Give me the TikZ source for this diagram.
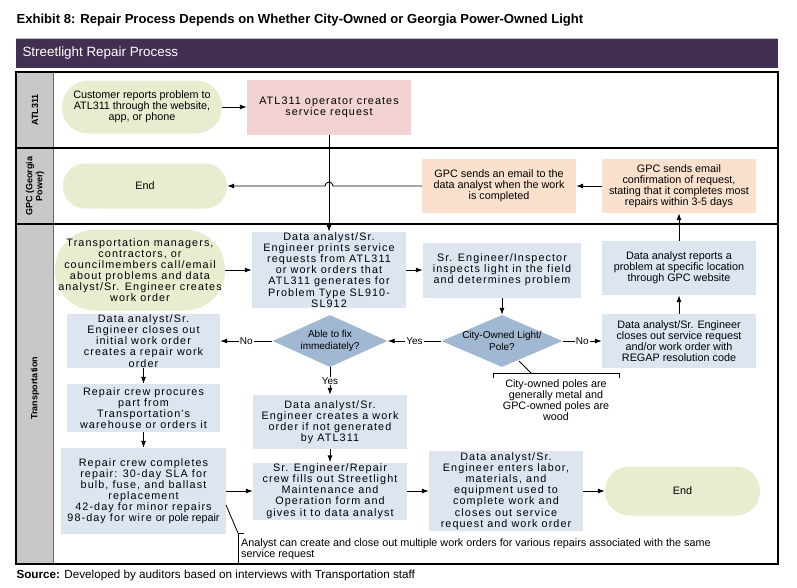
\documentclass[tikz,border=0pt]{standalone}
\usepackage{fontspec}
\setmainfont{Liberation Sans}
\newfontfamily\widefont[LetterSpace=10]{Liberation Sans}
\usetikzlibrary{arrows.meta,shapes.geometric}
\definecolor{hdrpurple}{RGB}{66,48,82}
\definecolor{startgreen}{RGB}{231,238,208}
\definecolor{atlpink}{RGB}{242,210,210}
\definecolor{gpcpeach}{RGB}{250,225,205}
\definecolor{taskblue}{RGB}{220,229,240}
\definecolor{askblue}{RGB}{161,184,210}
\definecolor{lanegrey}{RGB}{200,200,200}
\begin{document}
\begin{tikzpicture}[x=1pt,y=-1pt,
    font=\fontsize{10.8}{11.1}\selectfont,
    task/.style={fill=taskblue, align=center, inner sep=0pt, minimum width=154pt, minimum height=54pt},
    wide/.style={font=\widefont\fontsize{10.8}{11.1}\selectfont},
    terminal/.style={fill=startgreen, align=center, inner sep=0pt, rounded corners=22pt},
    decision/.style={diamond, fill=askblue, inner sep=0pt},
    lbl/.style={fill=white, inner sep=1pt, font=\fontsize{10}{11}\selectfont},
    arr/.style={-{Latex[length=7pt,width=5pt]}, line width=0.9pt},
    lanename/.style={rotate=90, align=center, font=\bfseries\fontsize{9}{10}\selectfont}]
  \useasboundingbox (0,0) rectangle (797,587);

  \node[anchor=west, font=\bfseries\fontsize{13.1}{15}\selectfont] (title) at (13,20)
    {Exhibit 8: Repair Process Depends on Whether City-Owned or Georgia Power-Owned Light};
  \fill[hdrpurple] (16,38) rectangle (778,68);
  \draw[black!25, line width=1.5pt] (16,38.5) -- (778,38.5);
  \node[anchor=west, text=white, font=\fontsize{13.4}{15}\selectfont] (hdr) at (19,53) {Streetlight Repair Process};

  \fill[lanegrey] (16,72) rectangle (53,564);
  \draw[black!60, line width=1pt] (53,72) -- (53,564);
  \foreach \y in {148,224}{
    \draw[line width=1.2pt] (16,\y) -- (778,\y);
  }
  \draw[line width=1.3pt] (16,72) rectangle (778,564);
  \node[lanename] (lnatl) at (35,110) {ATL311};
  \node[lanename] (lngpc) at (35,186) {GPC (Georgia\\Power)};
  \node[lanename] (lntr) at (35,388) {Transportation};

  \node[terminal, rounded corners=26pt, minimum width=160pt, minimum height=53pt] (cust) at (142,107)
    {Customer reports problem to\\ATL311 through the website,\\app, or phone};
  \node[task, wide, fill=atlpink, minimum width=164pt, minimum height=55pt] (op) at (329,107)
    {ATL311 operator creates\\service request};

  \node[terminal, minimum width=164pt, minimum height=45pt] (gpcend) at (145,186) {End};
  \node[task, fill=gpcpeach] (gpcmail) at (499,186)
    {GPC sends an email to the\\data analyst when the work\\is completed};
  \node[task, fill=gpcpeach] (gpcconf) at (679,186)
    {GPC sends email\\confirmation of request,\\stating that it completes most\\repairs within 3-5 days};

  \node[terminal, wide, rounded corners=40pt, minimum width=170pt, minimum height=81pt] (mgrs) at (140,270)
    {Transportation managers,\\contractors, or\\councilmembers call/email\\about problems and data\\analyst/Sr. Engineer creates\\work order};
  \node[task, wide, minimum height=76pt] (prints) at (329,270)
    {Data analyst/Sr.\\Engineer prints service\\requests from ATL311\\or work orders that\\ATL311 generates for\\Problem Type SL910-\\SL912};
  \node[task, wide, minimum width=158pt, minimum height=55pt] (inspect) at (502,270)
    {Sr. Engineer/Inspector\\inspects light in the field\\and determines problem};
  \node[task] (reports) at (679,268)
    {Data analyst reports a\\problem at specific location\\through GPC website};

  \node[decision, minimum width=115pt, minimum height=52pt,
    label={[align=center, font=\fontsize{10}{11.5}\selectfont]center:Able to fix\\immediately?}] (fix) at (330,341) {};
  \node[decision, minimum width=121pt, minimum height=52pt,
    label={[align=center, font=\fontsize{10}{11.5}\selectfont]center:City-Owned Light/\\Pole?}] (own) at (502,341) {};
  \node[task] (closesr) at (679,341)
    {Data analyst/Sr. Engineer\\closes out service request\\and/or work order with\\REGAP resolution code};
  \node[task, wide, minimum width=153pt] (closeinit) at (143.5,341)
    {Data analyst/Sr.\\Engineer closes out\\initial work order\\creates a repair work\\order};
  \node[task, wide, minimum width=153pt, minimum height=48pt] (procure) at (143.5,408)
    {Repair crew procures\\part from\\Transportation's\\warehouse or orders it};
  \node[task, wide] (createwo) at (330,422)
    {Data analyst/Sr.\\Engineer creates a work\\order if not generated\\by ATL311};
  \node[task, wide, minimum width=165pt, minimum height=86pt] (complete) at (143.5,491)
    {Repair crew completes\\repair: 30-day SLA for\\bulb, fuse, and ballast\\replacement\\42-day for minor repairs\\98-day for wire {\rmfamily or pole repair}};
  \node[task, wide, minimum height=57pt] (fills) at (330,491)
    {Sr. Engineer/Repair\\crew fills out Streetlight\\Maintenance and\\Operation form and\\gives it to data analyst};
  \node[task, wide, minimum height=80pt] (enters) at (506,491)
    {Data analyst/Sr.\\Engineer enters labor,\\materials, and\\equipment used to\\complete work and\\closes out service\\request and work order};
  \node[terminal, rounded corners=24pt, minimum width=155pt, minimum height=49pt] (tend) at (682.5,491) {End};

  \node[align=center] (citynote) at (556,400)
    {City-owned poles are\\generally metal and\\GPC-owned poles are\\wood};
  \draw[line width=0.8pt] (519,361) -- (531,373);
  \draw[line width=0.8pt] (493,378) -- (493,373) -- (619,373) -- (619,378);
  \node[anchor=north west, align=left, inner sep=0pt] (anote) at (241,538)
    {Analyst can create and close out multiple work orders for various repairs associated with the same\\service request};
  \draw[line width=0.8pt] (226,505) -- (238,533);
  \draw[line width=0.8pt] (244,533) -- (238,533) -- (238,564);

  \node[anchor=west, font=\fontsize{11.7}{13}\selectfont] (src) at (13,575)
    {\textbf{Source:} Developed by auditors based on interviews with Transportation staff};

  \coordinate (hop) at (op.south |- gpcmail.west);
  \draw[arr] (cust) -- (op);
  \draw[arr] (op) -- (prints);
  \draw[arr] (gpcconf) -- (gpcmail);
  \draw[arr] (gpcmail.west) -- ([xshift=4pt]hop) arc[start angle=0, end angle=180, radius=4pt] -- (gpcend.east);
  \draw[arr] (reports) -- (gpcconf);
  \draw[arr] (mgrs) -- (prints);
  \draw[arr] (prints) -- (inspect);
  \draw[arr] (inspect) -- (own);
  \draw[arr] (own) -- node[lbl] {No} (closesr);
  \draw[arr] (closesr) -- (reports);
  \draw[arr] (own) -- node[lbl] {Yes} (fix);
  \draw[arr] (fix) -- node[lbl] {No} (closeinit);
  \draw[arr] (fix) -- node[lbl] {Yes} (createwo);
  \draw[arr] (closeinit) -- (procure);
  \draw[arr] (procure) -- (complete);
  \draw[arr] (createwo) -- (fills);
  \draw[arr] (complete) -- (fills);
  \draw[arr] (fills) -- (enters);
  \draw[arr] (enters) -- (tend);
\end{tikzpicture}
\end{document}
